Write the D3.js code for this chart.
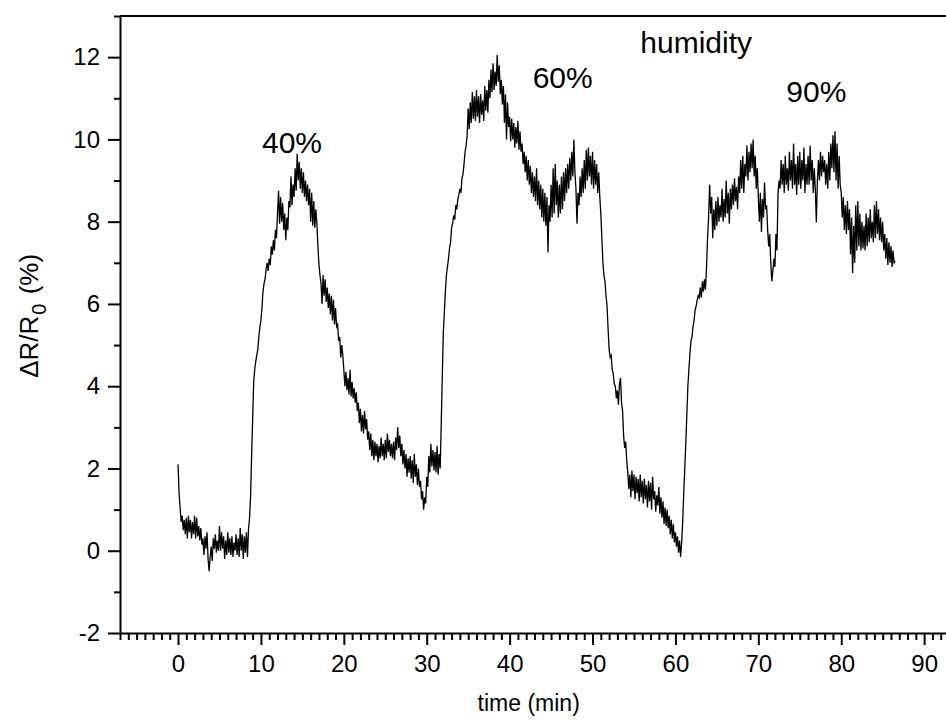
<!DOCTYPE html>
<html>
<head>
<meta charset="utf-8">
<script src="https://cdn.jsdelivr.net/npm/d3@7/dist/d3.min.js"></script>
<style>
  body { margin: 0; background: #fff; }
  svg { display: block; }
  text { font-family: "Liberation Sans", Arial, sans-serif; fill: #000; }
</style>
</head>
<body>
<svg id="chart" width="946" height="724"></svg>
<script>
// Resistance change of the sensor, one reading every 1/8 minute (one row per minute)
const sampleStep = 0.125; // min
const signal = [
  2.10, 1.40, 1.05, 0.70, 0.85, 0.50, 0.75, 0.40,
  0.80, 0.30, 0.85, 0.45, 0.75, 0.30, 0.70, 0.40,
  0.85, 0.30, 0.80, 0.35, 0.60, 0.25, 0.55, 0.15,
  0.30, -0.10, 0.35, 0.05, 0.45, -0.20, -0.50, -0.15,
  0.10, -0.25, 0.30, 0.05, 0.40, -0.05, 0.25, 0.00,
  0.60, 0.00, 0.45, 0.05, 0.35, -0.20, 0.25, -0.10,
  0.45, -0.05, 0.30, -0.10, 0.35, -0.15, 0.20, 0.00,
  0.40, -0.10, 0.30, -0.15, 0.55, 0.00, 0.40, -0.20,
  0.35, -0.05, 0.45, -0.15, 0.50, 0.80, 1.30, 2.30,
  3.20, 4.10, 4.40, 4.60, 4.75, 4.90, 5.20, 5.45,
  5.60, 5.90, 6.30, 6.50, 6.60, 6.85, 7.00, 6.80,
  7.10, 6.95, 7.40, 7.20, 7.55, 7.30, 7.80, 7.60,
  8.20, 8.75, 7.95, 8.60, 8.00, 8.45, 7.80, 8.20,
  7.55, 8.10, 7.80, 8.50, 8.35, 9.10, 8.40, 8.90,
  8.60, 9.30, 8.75, 9.65, 9.00, 9.45, 8.80, 9.30,
  8.70, 9.20, 8.60, 9.00, 8.50, 8.90, 8.40, 8.80,
  8.00, 8.70, 7.90, 8.50, 7.85, 8.30, 7.95, 7.40,
  6.95, 6.70, 6.50, 6.00, 6.70, 6.20, 6.60, 6.05,
  6.40, 5.90, 6.25, 5.75, 6.20, 5.60, 6.10, 5.50,
  5.90, 5.45, 5.50, 5.10, 5.20, 4.70, 5.00, 4.75,
  4.40, 4.00, 4.35, 3.90, 4.20, 3.80, 4.40, 3.75,
  4.10, 3.70, 3.95, 3.60, 3.85, 3.40, 3.60, 3.10,
  3.45, 2.90, 3.30, 2.85, 3.40, 2.95, 3.20, 2.70,
  2.90, 2.45, 2.85, 2.30, 2.70, 2.20, 2.65, 2.30,
  2.60, 2.15, 2.55, 2.25, 2.75, 2.30, 2.60, 2.20,
  2.70, 2.25, 2.85, 2.40, 2.70, 2.30, 2.60, 2.25,
  2.65, 2.20, 2.75, 2.45, 3.00, 2.50, 2.80, 2.30,
  2.60, 2.10, 2.45, 2.00, 2.35, 1.80, 2.25, 1.90,
  2.30, 1.75, 2.20, 1.65, 2.35, 1.80, 2.10, 1.60,
  2.00, 1.55, 1.70, 1.25, 1.45, 1.00, 1.30, 1.15,
  1.80, 1.55, 2.30, 1.90, 2.60, 2.05, 2.45, 1.95,
  2.40, 1.90, 2.55, 1.85, 2.35, 2.00, 3.10, 4.20,
  5.30, 5.80, 6.30, 6.70, 6.90, 7.10, 7.35, 7.50,
  7.85, 7.95, 8.15, 8.05, 8.40, 8.30, 8.55, 8.65,
  8.80, 8.70, 9.05, 9.15, 9.40, 9.70, 9.85, 10.10,
  10.75, 10.25, 10.90, 10.40, 11.15, 10.50, 11.05, 10.45,
  11.20, 10.55, 11.05, 10.40, 11.10, 10.60, 10.95, 10.45,
  11.30, 10.70, 11.20, 10.65, 11.45, 11.00, 11.70, 11.15,
  11.85, 11.20, 11.65, 11.30, 12.05, 11.40, 11.80, 11.10,
  11.45, 10.85, 11.30, 10.40, 11.10, 10.00, 10.90, 10.30,
  10.55, 9.95, 10.50, 10.00, 10.40, 9.80, 10.30, 9.90,
  10.45, 9.75, 10.20, 9.70, 9.90, 9.40, 9.70, 9.20,
  9.60, 9.00, 9.50, 8.90, 9.35, 8.70, 9.20, 8.60,
  9.10, 8.50, 9.30, 8.40, 9.00, 8.30, 8.90, 8.10,
  8.80, 8.00, 8.70, 7.90, 8.60, 7.25, 8.40, 8.00,
  8.90, 8.10, 9.30, 8.20, 9.40, 8.40, 9.00, 8.10,
  8.90, 8.20, 9.10, 8.30, 9.20, 8.50, 9.30, 8.70,
  9.40, 8.80, 9.55, 9.00, 9.70, 9.10, 10.00, 9.20,
  8.80, 7.95, 8.70, 8.40, 9.10, 8.60, 9.30, 8.70,
  9.50, 8.80, 9.75, 9.00, 9.80, 9.10, 9.60, 8.90,
  9.70, 8.80, 9.50, 8.90, 9.40, 8.70, 9.20, 8.60,
  8.20, 7.60, 7.00, 6.70, 6.55, 6.20, 5.95, 5.40,
  4.90, 4.70, 4.75, 4.40, 4.30, 4.05, 4.00, 3.70,
  3.90, 3.55, 4.05, 4.20, 3.60, 3.40, 2.80, 2.50,
  2.65, 2.20, 1.90, 1.50, 1.85, 1.30, 1.95, 1.45,
  1.85, 1.25, 1.80, 1.40, 1.75, 1.20, 1.85, 1.30,
  1.70, 1.15, 1.75, 1.25, 1.60, 1.05, 1.70, 1.20,
  1.65, 1.00, 1.80, 1.25, 1.45, 0.95, 1.35, 1.10,
  1.55, 0.90, 1.30, 0.80, 1.20, 0.65, 1.05, 0.60,
  1.00, 0.55, 0.85, 0.40, 0.75, 0.30, 0.65, 0.20,
  0.45, 0.10, 0.35, -0.05, 0.25, -0.15, 0.20, 0.70,
  1.40, 2.00, 2.60, 3.30, 4.00, 4.40, 4.80, 5.10,
  5.20, 5.45, 5.60, 5.85, 5.95, 6.10, 6.20, 6.15,
  6.40, 6.15, 6.55, 6.30, 6.60, 6.35, 6.90, 7.60,
  8.10, 8.90, 8.20, 8.60, 7.60, 8.30, 7.80, 8.50,
  7.90, 8.60, 8.00, 8.40, 8.10, 8.80, 8.00, 8.55,
  8.10, 9.00, 8.20, 8.70, 7.95, 8.80, 8.30, 8.90,
  8.40, 9.05, 8.50, 8.85, 8.30, 9.10, 8.70, 9.50,
  8.80, 9.60, 8.70, 9.40, 9.10, 9.85, 9.00, 9.70,
  9.20, 9.90, 9.30, 10.00, 9.10, 9.60, 8.80, 9.30,
  8.60, 8.00, 8.70, 7.75, 8.55, 8.10, 8.95, 8.30,
  8.40, 7.80, 7.40, 7.70, 7.00, 6.55, 6.80, 7.10,
  6.90, 7.70, 7.30, 8.70, 9.00, 8.80, 9.50, 8.90,
  9.40, 8.70, 9.60, 8.90, 9.30, 8.75, 9.70, 9.00,
  9.50, 8.80, 9.90, 8.90, 9.40, 8.65, 9.60, 8.90,
  9.70, 8.80, 9.50, 9.00, 9.80, 8.70, 9.40, 8.90,
  9.60, 8.90, 9.85, 9.00, 9.50, 8.70, 9.30, 8.80,
  7.98, 9.00, 9.50, 9.00, 9.70, 9.10, 9.60, 9.20,
  9.50, 8.90, 9.40, 8.80, 9.70, 9.00, 9.90, 9.30,
  10.10, 9.20, 10.20, 9.00, 9.90, 8.80, 9.60, 8.90,
  8.70, 8.10, 8.60, 7.80, 8.40, 7.70, 8.50, 7.80,
  8.30, 7.20, 8.10, 6.75, 7.90, 7.00, 8.40, 7.30,
  8.50, 7.40, 8.20, 7.30, 8.00, 7.35, 7.90, 7.30,
  8.20, 7.40, 8.10, 7.50, 8.30, 7.60, 8.00, 7.50,
  8.40, 7.60, 8.50, 7.70, 8.30, 7.55, 8.10, 7.50,
  8.00, 7.30, 7.70, 7.10, 7.60, 6.95, 7.50, 7.00,
  7.40, 6.90, 7.30, 7.00, 7.05
];

const xMajorTicks = [0, 10, 20, 30, 40, 50, 60, 70, 80, 90];
const yMajorTicks = [-2, 0, 2, 4, 6, 8, 10, 12];
const xDomain = [-7, 93];
const yDomain = [-2, 13];

// Humidity level labels placed in data units
const labelText = ["40%", "60%", "humidity", "90%"];
const labelTime = [13.75, 46.4, 62.5, 77.0];
const labelValue = [9.67, 11.25, 12.1, 10.92];
const labelSize = [30, 30, 30, 30];

const xTitle = "time (min)";

const svg = d3.select("#chart");
const plotLeft = 120, plotBottom = 633, plotTop = 16, plotRight = 949;

const x = d3.scaleLinear().domain(xDomain).range([plotLeft, plotRight]);
const y = d3.scaleLinear().domain(yDomain).range([plotBottom, plotTop]);

const points = signal.map((v, i) => [i * sampleStep, v]);

// trace
svg.append("path")
  .datum(points)
  .attr("fill", "none")
  .attr("stroke", "#000")
  .attr("stroke-width", 1.3)
  .attr("d", d3.line().x(d => x(d[0])).y(d => y(d[1])));

function styleAxis(g) {
  g.select(".domain").attr("stroke", "#000").attr("stroke-width", 2);
  g.selectAll(".tick line").attr("stroke", "#000").attr("stroke-width", 2);
  g.selectAll(".tick text").style("font-size", "24px").attr("fill", "#000");
}

const xMinor = d3.range(xDomain[0], xDomain[1] + 1, 1).filter(v => !xMajorTicks.includes(v));
const yMinor = d3.range(yDomain[0], yDomain[1] + 1, 1).filter(v => !yMajorTicks.includes(v));
const plainNumber = d => String(d);

// x axis: minor ticks, then major ticks with labels
svg.append("g")
  .attr("transform", `translate(0,${plotBottom})`)
  .call(d3.axisBottom(x).tickValues(xMinor).tickSize(7).tickSizeOuter(0).tickFormat(""))
  .call(styleAxis);
svg.append("g")
  .attr("transform", `translate(0,${plotBottom})`)
  .call(d3.axisBottom(x).tickValues(xMajorTicks).tickSize(12).tickSizeOuter(0).tickPadding(10).tickFormat(plainNumber))
  .call(styleAxis)
  .call(g => g.select(".domain").remove());

// y axis
svg.append("g")
  .attr("transform", `translate(${plotLeft},0)`)
  .call(d3.axisLeft(y).tickValues(yMinor).tickSize(6).tickSizeOuter(0).tickFormat(""))
  .call(styleAxis);
svg.append("g")
  .attr("transform", `translate(${plotLeft},0)`)
  .call(d3.axisLeft(y).tickValues(yMajorTicks).tickSize(12).tickSizeOuter(0).tickPadding(8).tickFormat(plainNumber))
  .call(styleAxis)
  .call(g => g.select(".domain").remove());

// top frame line
svg.append("line")
  .attr("x1", plotLeft).attr("x2", 946)
  .attr("y1", plotTop).attr("y2", plotTop)
  .attr("stroke", "#000").attr("stroke-width", 2);

// axis titles
svg.append("text")
  .attr("x", x(42.3)).attr("y", 711)
  .attr("text-anchor", "middle")
  .style("font-size", "23px")
  .text(xTitle);

const yt = svg.append("text")
  .attr("transform", `translate(38,${y(5.71)}) rotate(-90)`)
  .attr("text-anchor", "middle")
  .style("font-size", "26px");
yt.append("tspan").text("\u0394R/R");
yt.append("tspan").attr("dy", 8).attr("dx", 1).style("font-size", "20px").text("0");
yt.append("tspan").attr("dy", -8).attr("dx", 2).text(" (%)");

// humidity labels
svg.append("g").selectAll("text")
  .data(labelText)
  .join("text")
  .attr("x", (d, i) => x(labelTime[i]))
  .attr("y", (d, i) => y(labelValue[i]))
  .attr("text-anchor", "middle")
  .style("font-size", (d, i) => labelSize[i] + "px")
  .text(d => d);
</script>
</body>
</html>
